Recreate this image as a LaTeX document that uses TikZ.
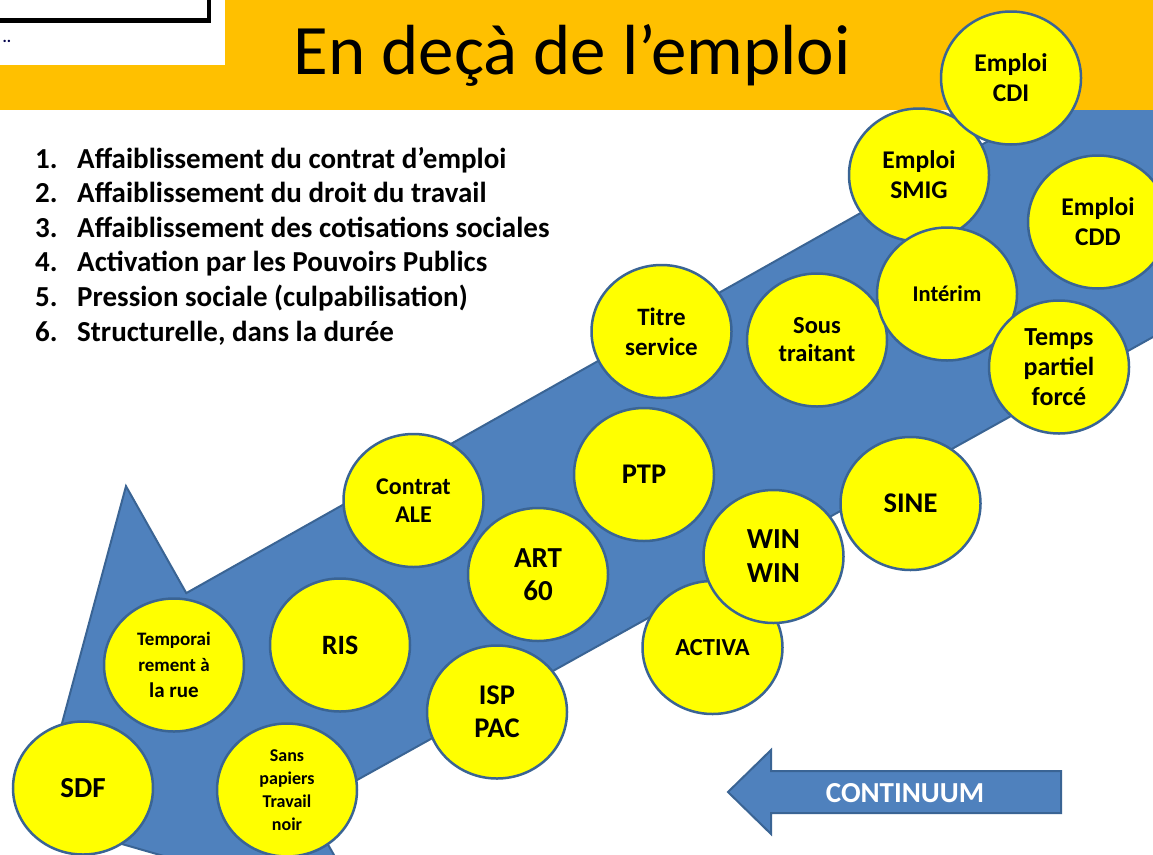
\documentclass[tikz,border=0pt]{standalone}
\usepackage{fontspec}
\setmainfont{Carlito}
\usetikzlibrary{shapes.geometric}
\definecolor{hdr}{HTML}{FFC000}
\definecolor{arrfill}{HTML}{4F81BD}
\definecolor{arrline}{HTML}{3A6494}
\definecolor{bub}{HTML}{FFFF00}
\newcommand\fsz[2]{\fontsize{#1}{#2}\selectfont}
\begin{document}
\begin{tikzpicture}[x=1pt,y=-1pt,
  bubble/.style={ellipse, draw=arrline, line width=2.5pt, fill=bub,
    minimum width=140pt, minimum height=133pt, inner sep=0pt,
    align=center, font=\bfseries\fsz{25.5}{30}},
  listnum/.style={anchor=base west, inner sep=0pt, font=\bfseries\fsz{29}{32}},
  shapeline/.style={fill=arrfill, draw=arrline, line width=2pt, line join=miter},
]
\useasboundingbox (0,0) rectangle (1153,854);
\begin{scope}
\clip (0,0) rectangle (1153,854);
\fill[white] (0,0) rectangle (1153,854);
% big arrow
\draw[shapeline] (36.1,819.3) -- (126,486.2) -- (186.3,593.1) -- (1343.9,-59.4)
  -- (1464.9,163.4) -- (307.3,807.7) -- (367.6,914.7) -- cycle;
% header
\fill[hdr] (0,0) rectangle (1153,110);
\fill[white] (0,0) rectangle (225,65);
\draw[line width=4.5pt, black] (-10,-10) rectangle (209,20.5);
\node[inner sep=0pt, font=\bfseries\fsz{16}{16}, text=black!70!blue] (dots) at (7,41) {..};
\node[inner sep=0pt] (title) at (572,55) {\fsz{71}{80}En deçà de l’emploi};
% list
\foreach \i/\t [evaluate=\i as \yy using 168+34.6*(\i-1)] in
  {1/{Affaiblissement du contrat d’emploi},
   2/{Affaiblissement du droit du travail},
   3/{Affaiblissement des cotisations sociales},
   4/{Activation par les Pouvoirs Publics},
   5/{Pression sociale (culpabilisation)},
   6/{Structurelle, dans la durée}}{
  \node[listnum] (num\i) at (35,\yy) {\i.};
  \node[listnum] (item\i) at (77,\yy) {\t};
}
% continuum arrow
\draw[shapeline] (728,792) -- (771,750) -- (771,771) -- (1061,771) -- (1061,813)
  -- (771,813) -- (771,834) -- cycle;
\node[text=white, font=\bfseries\fsz{29}{30}] (cont) at (905,793) {CONTINUUM};
% bubbles
\node[bubble, font=\bfseries\fsz{29}{30}] (sdf) at (83,788) {SDF};
\node[bubble, font=\bfseries\fsz{18}{23}] (sans) at (287,790) {Sans\\papiers\\Travail\\noir};
\node[bubble, font=\bfseries\fsz{19}{26}] (temp) at (174,665) {Temporai\\rement à\\{\fsz{21}{26}la rue}};
\node[bubble, font=\bfseries\fsz{28}{30}] (ris) at (340,645) {RIS};
\node[bubble, font=\bfseries\fsz{28.5}{33}] (isp) at (497,712) {ISP\\PAC};
\node[bubble, font=\bfseries\fsz{24}{28}] (ale) at (413.5,500.5) {Contrat\\ALE};
\node[bubble, font=\bfseries\fsz{29}{33}] (art) at (538,574.5) {ART\\60};
\node[bubble, font=\bfseries\fsz{28.5}{30}] (ptp) at (644,474.5) {PTP};
\node[bubble, font=\bfseries\fsz{25}{30}] (titre) at (661.5,331.5) {Titre\\service};
\node[bubble, font=\bfseries\fsz{24.5}{30}] (activa) at (712.5,647.5) {ACTIVA};
\node[bubble, font=\bfseries\fsz{29}{34}] (win) at (773.5,556.5) {WIN\\WIN};
\node[bubble, font=\bfseries\fsz{28.5}{30}] (sine) at (910.5,503.5) {SINE};
\node[bubble, font=\bfseries\fsz{24.5}{28}] (sous) at (817,340) {Sous\\traitant};
\node[bubble] (smig) at (919,175) {Emploi\\SMIG};
\node[bubble] (cdi) at (1011,78) {Emploi\\CDI};
\node[bubble, font=\bfseries\fsz{22.5}{26}] (interim) at (947,294) {Intérim};
\node[bubble] (cdd) at (1098,222) {Emploi\\CDD};
\node[bubble, font=\bfseries\fsz{26}{30}] (tpf) at (1059,367) {Temps\\partiel\\forcé};
\end{scope}
\end{tikzpicture}
\end{document}
